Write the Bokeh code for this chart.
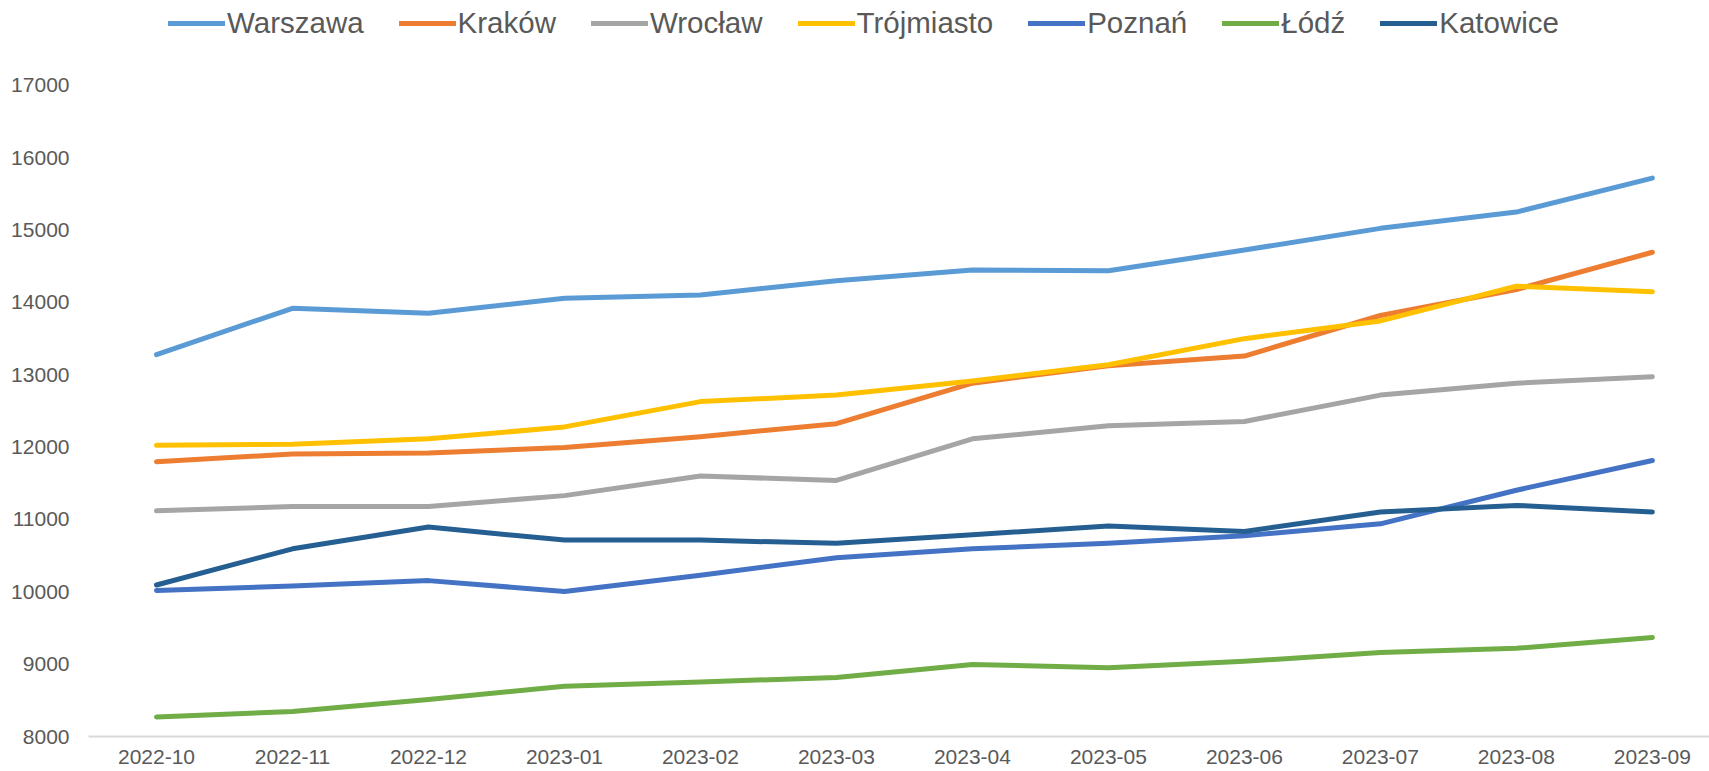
from bokeh.plotting import figure
from bokeh.models import Range1d, FixedTicker, Legend, LegendItem
from bokeh.embed import file_html
from bokeh.resources import INLINE

months = ["2022-10", "2022-11", "2022-12", "2023-01", "2023-02", "2023-03",
          "2023-04", "2023-05", "2023-06", "2023-07", "2023-08", "2023-09"]

warszawa = [13280, 13920, 13850, 14060, 14105, 14300, 14450, 14440, 14725, 15025, 15250, 15720]
krakow = [11800, 11905, 11920, 11995, 12145, 12325, 12885, 13125, 13260, 13820, 14180, 14695]
wroclaw = [11120, 11180, 11180, 11330, 11600, 11540, 12115, 12295, 12355, 12720, 12885, 12975]
trojmiasto = [12025, 12040, 12115, 12280, 12630, 12720, 12915, 13140, 13500, 13745, 14225, 14150]
poznan = [10020, 10080, 10155, 10005, 10230, 10470, 10595, 10670, 10775, 10940, 11405, 11815]
lodz = [8270, 8345, 8510, 8695, 8755, 8815, 8995, 8950, 9040, 9160, 9220, 9370]
katowice = [10095, 10595, 10895, 10715, 10715, 10670, 10790, 10910, 10835, 11105, 11195, 11105]

series_names = ["Warszawa", "Kraków", "Wrocław", "Trójmiasto", "Poznań", "Łódź", "Katowice"]
series_values = [warszawa, krakow, wroclaw, trojmiasto, poznan, lodz, katowice]
colors = ["#5B9BD5", "#ED7D31", "#A5A5A5", "#FFC000", "#4472C4", "#70AD47", "#255E91"]

y_ticks = [8000, 9000, 10000, 11000, 12000, 13000, 14000, 15000, 16000, 17000]

x_idx = list(range(len(months)))

p = figure(width=1709, height=771, output_backend="svg", toolbar_location=None,
           x_range=Range1d(-0.5, 11.42), y_range=Range1d(8000, 18175),
           min_border_left=88, min_border_right=0, min_border_top=0, min_border_bottom=35)

p.outline_line_color = None
p.xgrid.visible = False
p.ygrid.visible = False
p.background_fill_color = "white"

items = []
for name, vals, col in zip(series_names, series_values, colors):
    r = p.line(x=x_idx, y=vals, line_width=5, line_color=col,
               line_cap="round", line_join="round")
    items.append(LegendItem(label=name, renderers=[r]))

legend = Legend(items=items, orientation="horizontal", location=(80, 696),
                glyph_width=57, glyph_height=20, label_standoff=2, spacing=35,
                padding=0, margin=0, border_line_color=None, background_fill_alpha=0,
                label_text_font_size="29.5px", label_text_color="#595959",
                label_text_font="Liberation Sans")
p.add_layout(legend, "center")

p.xaxis.ticker = FixedTicker(ticks=x_idx)
p.xaxis.major_label_overrides = {i: m for i, m in enumerate(months)}
p.xaxis.axis_line_color = "#D9D9D9"
p.xaxis.axis_line_width = 2
p.xaxis.major_tick_line_color = None
p.xaxis.minor_tick_line_color = None
p.xaxis.major_label_standoff = 7
p.xaxis.major_label_text_font = "Liberation Sans"
p.xaxis.major_label_text_font_size = "21px"
p.xaxis.major_label_text_color = "#595959"

p.yaxis.ticker = FixedTicker(ticks=y_ticks)
p.yaxis.axis_line_color = None
p.yaxis.major_tick_line_color = None
p.yaxis.minor_tick_line_color = None
p.yaxis.major_label_standoff = 13
p.yaxis.major_label_text_font = "Liberation Sans"
p.yaxis.major_label_text_font_size = "21px"
p.yaxis.major_label_text_color = "#595959"

open("out.html", "w").write(file_html(p, INLINE))
